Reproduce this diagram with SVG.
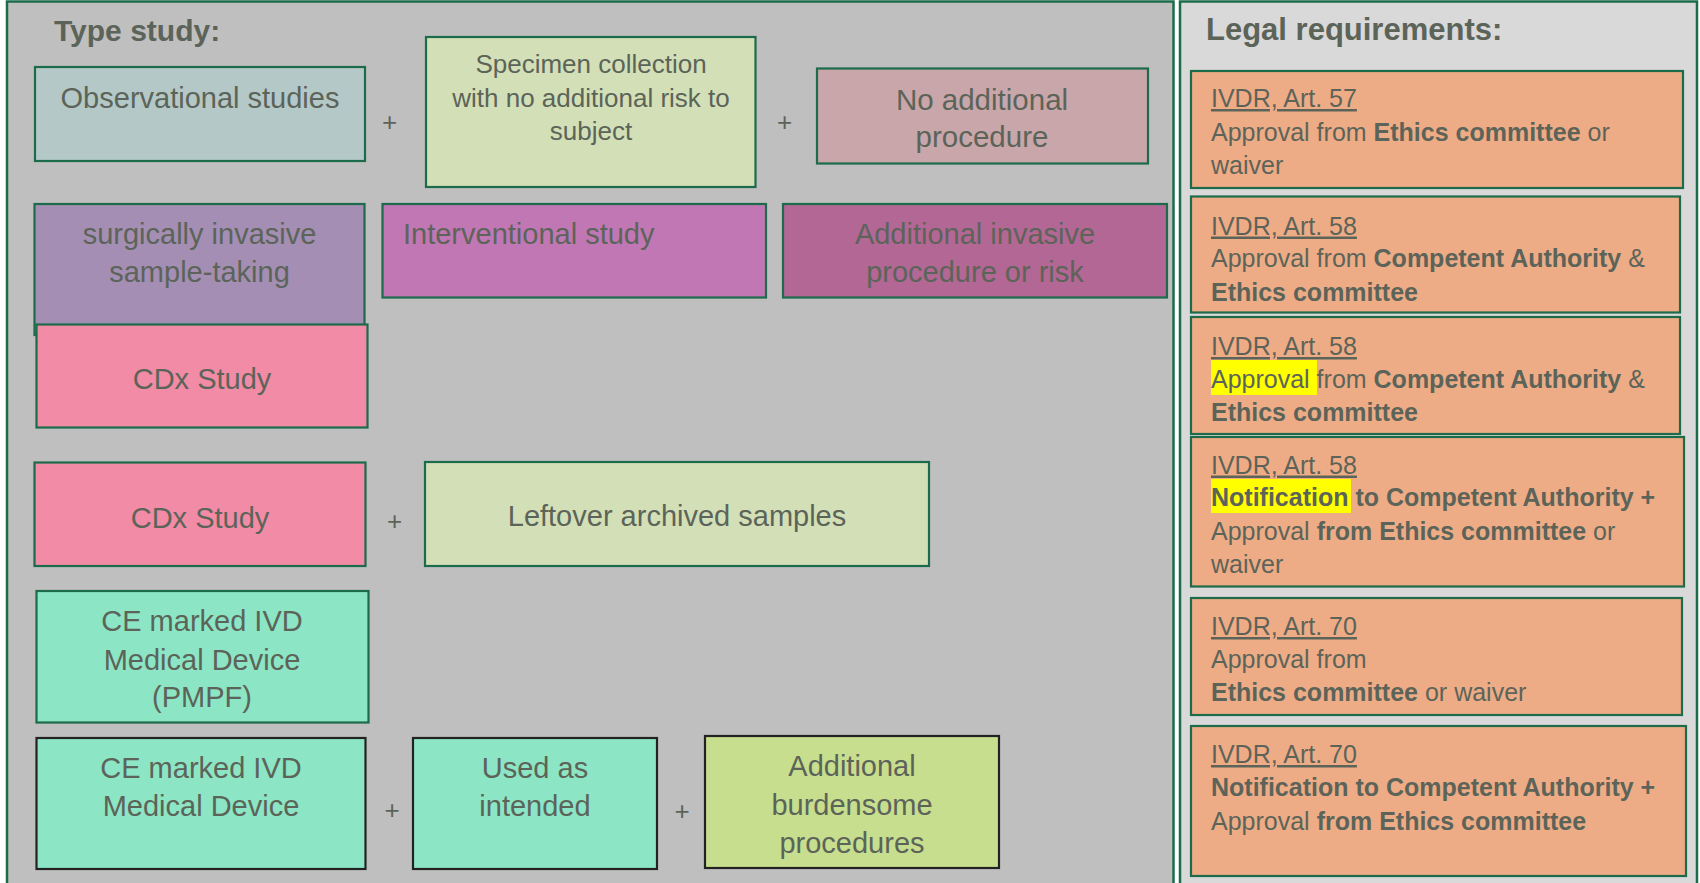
<svg xmlns="http://www.w3.org/2000/svg" width="1700" height="883" viewBox="0 0 1700 883">
<style>
  .panelL { fill:#bfbfbf; stroke:#1c6b4b; stroke-width:2.5; }
  .panelR { fill:#d9d9d9; stroke:#1c6b4b; stroke-width:2.5; }
  .box { stroke:#1c6b4b; stroke-width:2.2; }
  .dark { stroke:#222222; stroke-width:2.2; }
  text { font-family:"Liberation Sans", Arial, sans-serif; fill:#5c6459; }
  .t { font-size:29px; text-anchor:middle; }
  .ts { font-size:26px; text-anchor:middle; }
  .plus { font-size:26px; text-anchor:middle; }
  .title { font-size:30px; font-weight:bold; }
  .r { font-size:25px; }
  .b { font-weight:bold; }
  .u { text-decoration:underline; }
  .req { fill:#eeac86; stroke:#1c6b4b; stroke-width:2.2; }
  .hl { fill:#ffff00; }
</style>
<rect x="0" y="0" width="1700" height="883" fill="#ffffff"/>
<g id="panel-type-study">
  <rect class="panelL" x="7" y="1.5" width="1166.5" height="900"/>
  <text class="title" x="54" y="40.5">Type study:</text>
</g>
<g id="panel-legal">
  <rect class="panelR" x="1180" y="1.5" width="517" height="900"/>
  <text class="title" x="1206" y="39.5" style="font-size:31px">Legal requirements:</text>
</g>

<g id="n-observational">
  <rect class="box" x="35" y="67" width="330" height="94" fill="#b4c9c7"/>
  <text class="t" x="200" y="108">Observational studies</text>
</g>
<g id="n-specimen">
  <rect class="box" x="426" y="37" width="329.5" height="150" fill="#d3dfb7"/>
  <text class="ts" x="591" y="73">Specimen collection</text>
  <text class="ts" x="591" y="106.5">with no additional risk to</text>
  <text class="ts" x="591" y="140">subject</text>
</g>
<g id="n-noadditional">
  <rect class="box" x="817" y="68.5" width="331" height="95" fill="#c9a6a9"/>
  <text class="t" x="982" y="110" style="font-size:29.5px">No additional</text>
  <text class="t" x="982" y="147" style="font-size:29.5px">procedure</text>
</g>
<g id="n-surgical">
  <rect class="box" x="34.5" y="204" width="330" height="131" fill="#a48eb3"/>
  <text class="t" x="199.5" y="244">surgically invasive</text>
  <text class="t" x="199.5" y="281.5">sample-taking</text>
</g>
<g id="n-interventional">
  <rect class="box" x="382.5" y="204" width="383.5" height="93.5" fill="#c177b4"/>
  <text class="t" x="403" y="244" style="text-anchor:start">Interventional study</text>
</g>
<g id="n-addinvasive">
  <rect class="box" x="783" y="204" width="384" height="93.5" fill="#b36795"/>
  <text class="t" x="975" y="244">Additional invasive</text>
  <text class="t" x="975" y="282">procedure or risk</text>
</g>
<g id="n-cdx1">
  <rect class="box" x="36.5" y="324.5" width="331" height="103" fill="#f28ba5"/>
  <text class="t" x="202" y="388.5">CDx Study</text>
</g>
<g id="n-cdx2">
  <rect class="box" x="34.5" y="462.5" width="331" height="103.5" fill="#f28ba5"/>
  <text class="t" x="200" y="527.5">CDx Study</text>
</g>
<g id="n-leftover">
  <rect class="box" x="425" y="462" width="504" height="104" fill="#d3dfb7"/>
  <text class="t" x="677" y="526">Leftover archived samples</text>
</g>
<g id="n-ce-pmpf">
  <rect class="box" x="36.5" y="591" width="332" height="131.5" fill="#8ce6c5"/>
  <text class="t" x="202" y="631">CE marked IVD</text>
  <text class="t" x="202" y="669.5">Medical Device</text>
  <text class="t" x="202" y="707">(PMPF)</text>
</g>
<g id="n-ce-ivd">
  <rect class="dark" x="36.5" y="738" width="329" height="131" fill="#8ce6c5"/>
  <text class="t" x="201" y="777.5">CE marked IVD</text>
  <text class="t" x="201" y="815.5">Medical Device</text>
</g>
<g id="n-used">
  <rect class="dark" x="413" y="738" width="244" height="131" fill="#8ce6c5"/>
  <text class="t" x="535" y="778">Used as</text>
  <text class="t" x="535" y="815.5">intended</text>
</g>
<g id="n-burdensome">
  <rect class="dark" x="705" y="736" width="294" height="132" fill="#c8de8f"/>
  <text class="t" x="852" y="776">Additional</text>
  <text class="t" x="852" y="814.5">burdensome</text>
  <text class="t" x="852" y="852.5">procedures</text>
</g>

<g id="connectors">
  <text class="plus" x="389.5" y="130.5">+</text>
  <text class="plus" x="784.5" y="130.5">+</text>
  <text class="plus" x="394.5" y="529.5">+</text>
  <text class="plus" x="392" y="819">+</text>
  <text class="plus" x="682" y="820">+</text>
</g>

<g id="r-art57a">
  <rect class="req" x="1191" y="71" width="492" height="117"/>
  <text class="r u" x="1211" y="107">IVDR, Art. 57</text>
  <text class="r" x="1211" y="140.5">Approval from <tspan class="b">Ethics committee</tspan> or</text>
  <text class="r" x="1211" y="174">waiver</text>
</g>
<g id="r-art58a">
  <rect class="req" x="1191" y="196.5" width="489" height="116"/>
  <text class="r u" x="1211" y="234.5">IVDR, Art. 58</text>
  <text class="r" x="1211" y="267">Approval from <tspan class="b">Competent Authority</tspan> &amp;</text>
  <text class="r b" x="1211" y="300.5">Ethics committee</text>
</g>
<g id="r-art58b">
  <rect class="req" x="1191" y="317" width="489" height="117"/>
  <rect class="hl" x="1211" y="360" width="106" height="35"/>
  <text class="r u" x="1211" y="355">IVDR, Art. 58</text>
  <text class="r" x="1211" y="387.5">Approval from <tspan class="b">Competent Authority</tspan> &amp;</text>
  <text class="r b" x="1211" y="421">Ethics committee</text>
</g>
<g id="r-art58c">
  <rect class="req" x="1191" y="437" width="493" height="149.5"/>
  <rect class="hl" x="1211" y="479" width="140" height="34"/>
  <text class="r u" x="1211" y="473.5">IVDR, Art. 58</text>
  <text class="r b" x="1211" y="506">Notification to Competent Authority +</text>
  <text class="r" x="1211" y="539.5">Approval <tspan class="b">from Ethics committee</tspan> or</text>
  <text class="r" x="1211" y="573">waiver</text>
</g>
<g id="r-art70a">
  <rect class="req" x="1191" y="598" width="491" height="117"/>
  <text class="r u" x="1211" y="635">IVDR, Art. 70</text>
  <text class="r" x="1211" y="668">Approval from</text>
  <text class="r" x="1211" y="701"><tspan class="b">Ethics committee</tspan> or waiver</text>
</g>
<g id="r-art70b">
  <rect class="req" x="1191" y="726" width="495" height="150"/>
  <text class="r u" x="1211" y="763">IVDR, Art. 70</text>
  <text class="r b" x="1211" y="796">Notification to Competent Authority +</text>
  <text class="r" x="1211" y="829.5">Approval <tspan class="b">from Ethics committee</tspan></text>
</g>
</svg>
